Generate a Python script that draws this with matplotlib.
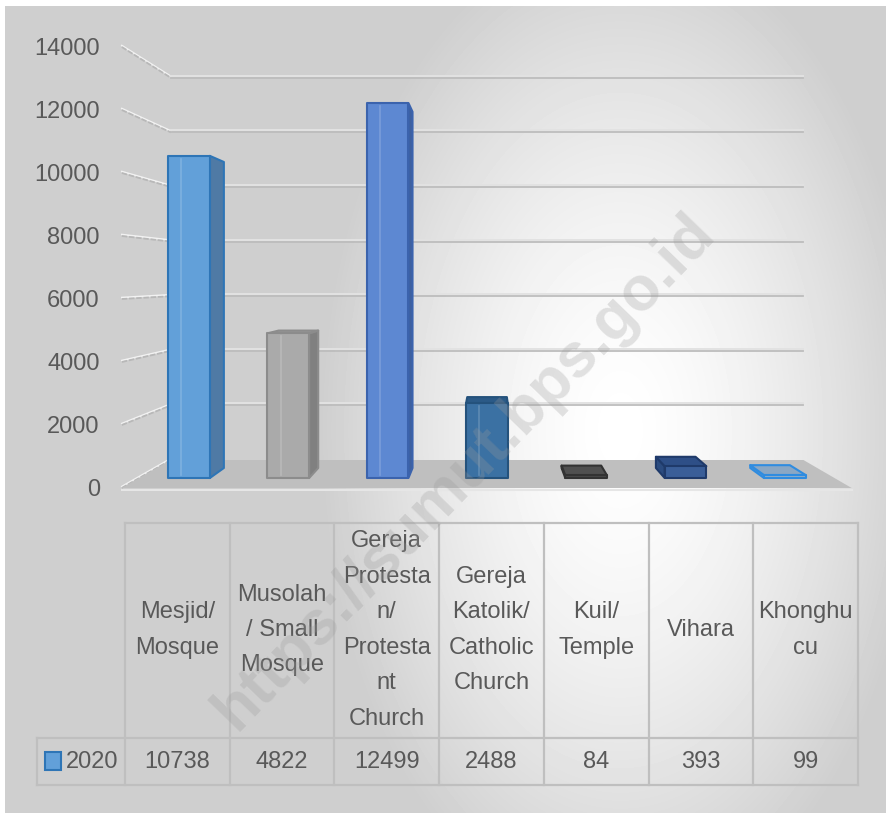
import numpy as np
import matplotlib
matplotlib.use("Agg")
import matplotlib.pyplot as plt
from matplotlib.patches import Polygon, Rectangle

# data
categories = ["Mesjid/\nMosque", "Musolah\n/ Small\nMosque",
              "Gereja\nProtesta\nn/\nProtesta\nnt\nChurch",
              "Gereja\nKatolik/\nCatholic\nChurch", "Kuil/\nTemple", "Vihara",
              "Khonghu\ncu"]
values_2020 = [10738, 4822, 12499, 2488, 84, 393, 99]
series_name = "2020"
y_ticks = [0, 2000, 4000, 6000, 8000, 10000, 12000, 14000]

# colours per bar: front, side, top, edge
front_cols = ['#62a0d9', '#aaaaaa', '#5d88d2', '#3b71a3', '#474747', '#3a5e98', '#8fadca']
side_cols = ['#4f7aa5', '#808080', '#3e609f', '#2c5782', '#363636', '#2b4b7f', '#7c9dbd']
top_cols = ['#4c88c2', '#9a9a9a', '#4b74be', '#2b5a87', '#505050', '#2e4f87', '#8aa7c4']
edge_cols = ['#2e75b6', '#8c8c8c', '#3b63ad', '#24527c', '#333333', '#1f3a6a', '#2f8ce0']

TXT = '#595959'
FONT = ['Liberation Sans Narrow', 'Liberation Sans', 'DejaVu Sans']
FS = 17

W, H = 891, 819
fig = plt.figure(figsize=(W / 100, H / 100), dpi=100)

# background axes in pixel units
bg = fig.add_axes([0, 0, 1, 1])
bg.set_xlim(0, W)
bg.set_ylim(0, H)
bg.axis('off')

# gradient fill of chart area
gx, gy = np.meshgrid(np.arange(5, 886), np.arange(6, 813))
d = np.sqrt(((gx - 620) / 300.0) ** 2 + ((gy - 430) / 500.0) ** 2)
shade = 1 - 0.19 * np.minimum(d, 1.0) ** 1.5
bg.imshow(shade, cmap='gray', vmin=0, vmax=1, origin='upper',
          extent=[5, 886, H - 813, H - 6], aspect='auto', zorder=0)

# front plane of the bars (data axes)
ax = fig.add_axes([139.35 / W, 341 / H, 695.1 / W, 420 / H])
ax.set_xlim(-0.5, 6.5)
ax.set_ylim(0, 14000)
ax.axis('off')

VP = np.array([490.0, H - 278.0])   # vanishing point
S_FRONT = 1.05   # floor front edge
S_BACK = 0.95    # back of the boxes
S_WALL = 0.91    # back wall


def proj(x, v, s):
    p = ax.transData.transform((x, v))
    return VP + s * (p - VP)


# walls: left wall lines and back wall gridlines
for v in y_ticks:
    a = proj(-0.5, v, S_FRONT)
    b = proj(-0.5, v, S_WALL)
    c = proj(6.5, v, S_WALL)
    bg.plot([a[0], b[0]], [a[1] + 1.5, b[1] + 1.5], color='#f2f2f2', lw=1.2, zorder=2)
    bg.plot([a[0], b[0]], [a[1], b[1]], color='#b8b8b8', lw=1.3, ls=(0, (3, 1)), zorder=2)
    if v > 0:
        bg.plot([b[0], c[0]], [b[1] + 2, c[1] + 2], color='#e2e2e2', lw=1.4, zorder=2)
        bg.plot([b[0], c[0]], [b[1], c[1]], color='#bdbdbd', lw=1.3, zorder=2)
    bg.text(a[0] - 22, a[1] - 2, f"{v}", ha='right', va='center', fontsize=FS,
            fontstretch='condensed', color=TXT, family=FONT, zorder=3)

# floor
floor = [proj(-0.5, 0, S_FRONT), proj(6.5, 0, S_FRONT),
         proj(6.5, 0, S_WALL), proj(-0.5, 0, S_WALL)]
bg.add_patch(Polygon(floor, closed=True, facecolor='#bfbfbf', edgecolor='none', zorder=3))
bg.plot([floor[0][0], floor[1][0]], [floor[0][1] - 1.5, floor[1][1] - 1.5],
        color='#e6e6e6', lw=1.5, zorder=3)

# bars as boxes
hw = 0.21
for i, v in enumerate(values_2020):
    xl, xr = i - hw, i + hw
    fl, fr = proj(xl, 0, 1), proj(xr, 0, 1)
    ftl, ftr = proj(xl, v, 1), proj(xr, v, 1)
    bl, br = proj(xl, 0, S_BACK), proj(xr, 0, S_BACK)
    btl, btr = proj(xl, v, S_BACK), proj(xr, v, S_BACK)
    kw = dict(closed=True, edgecolor=edge_cols[i], lw=1.5, joinstyle='round', zorder=5)
    if fr[0] < VP[0]:
        bg.add_patch(Polygon([fr, br, btr, ftr], facecolor=side_cols[i], **kw))
    elif fl[0] > VP[0]:
        bg.add_patch(Polygon([fl, bl, btl, ftl], facecolor=side_cols[i], **kw))
    if ftl[1] < VP[1]:
        bg.add_patch(Polygon([ftl, ftr, btr, btl], facecolor=top_cols[i], **kw))
    bg.add_patch(Polygon([fl, fr, ftr, ftl], facecolor=front_cols[i], **kw))
    # soft inner bevel line
    if ftl[1] - fl[1] > 20:
        xm = fl[0] + 0.32 * (fr[0] - fl[0])
        bg.plot([xm, xm], [fl[1] + 3, ftl[1] - 3], color='white', alpha=0.18,
                lw=1.2, zorder=6)

# data table
col_x = [125 + 104.7 * k for k in range(8)]
y_head_top, y_row_top, y_row_bot = H - 523, H - 738, H - 785
lc = '#bfbfbf'
bg.plot([col_x[0], col_x[-1]], [y_head_top, y_head_top], color=lc, lw=1.6, zorder=4)
bg.plot([37, col_x[-1]], [y_row_top, y_row_top], color=lc, lw=1.6, zorder=4)
bg.plot([37, col_x[-1]], [y_row_bot, y_row_bot], color=lc, lw=1.6, zorder=4)
bg.plot([37, 37], [y_row_bot, y_row_top], color=lc, lw=1.6, zorder=4)
for xc in col_x:
    bg.plot([xc, xc], [y_row_bot, y_head_top], color=lc, lw=1.6, zorder=4)

for k, (name, v) in enumerate(zip(categories, values_2020)):
    xc = (col_x[k] + col_x[k + 1]) / 2
    bg.text(xc, H - 630, name, ha='center', va='center', fontsize=FS,
            linespacing=1.79, fontstretch='condensed', color=TXT, family=FONT, zorder=4)
    bg.text(xc, H - 762, f"{v}", ha='center', va='center', fontsize=FS,
            fontstretch='condensed', color=TXT, family=FONT, zorder=4)

bg.add_patch(Rectangle((45, H - 770), 16, 18, facecolor=front_cols[0],
                       edgecolor=edge_cols[0], lw=1.5, zorder=4))
bg.text(66, H - 762, series_name, ha='left', va='center', fontsize=FS,
        fontstretch='condensed', color=TXT, family=FONT, zorder=4)

# watermark
bg.text(465, H - 472, "https://sumut.bps.go.id", rotation=46, rotation_mode='anchor',
        ha='center', va='center', fontsize=45, fontweight='bold',
        color='#9a9a9a', alpha=0.28, family=['Liberation Sans', 'DejaVu Sans'], zorder=10)

fig.savefig('out.png', dpi=100, facecolor='white')
